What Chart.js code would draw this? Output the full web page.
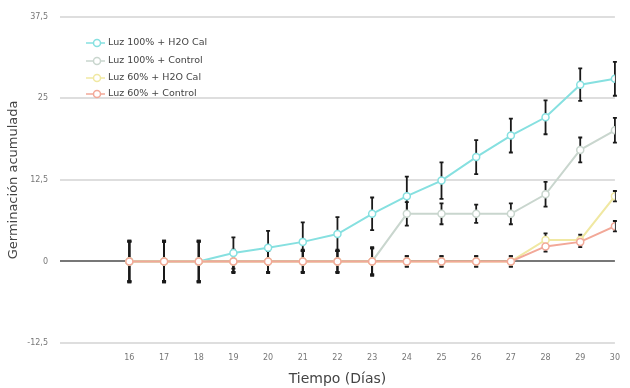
<!DOCTYPE html>
<html>
<head>
<meta charset="utf-8">
<script src="https://cdn.jsdelivr.net/npm/chart.js@4"></script>
<style>
  html, body { margin: 0; padding: 0; background: #fff; }
  #wrap { width: 630px; height: 388px; }
</style>
</head>
<body>
<div id="wrap"><canvas id="chart" width="630" height="388"></canvas></div>
<script>
// days on the x axis
const days = [16, 17, 18, 19, 20, 21, 22, 23, 24, 25, 26, 27, 28, 29, 30];
const yTicks = [-12.5, 0, 12.5, 25, 37.5];

const seriesNames = ['Luz 100% + H2O Cal', 'Luz 100% + Control', 'Luz 60% + H2O Cal', 'Luz 60% + Control'];

// means
const luz100Cal  = [0, 0, 0, 1.3, 2.1, 3.0, 4.2, 7.3, 10.0, 12.4, 16.0, 19.3, 22.1, 27.1, 28.0];
const luz100Ctrl = [0, 0, 0, 0, 0, 0, 0, 0, 7.3, 7.3, 7.3, 7.3, 10.3, 17.1, 20.1];
const luz60Cal   = [0, 0, 0, 0, 0, 0, 0, 0, 0, 0, 0, 0, 3.3, 3.3, 10.0];
const luz60Ctrl  = [0, 0, 0, 0, 0, 0, 0, 0, 0, 0, 0, 0, 2.3, 3.0, 5.4];

// error bar half-lengths
const err100Cal  = [3.2, 3.2, 3.2, 2.4, 2.6, 3.0, 2.6, 2.5, 3.0, 2.8, 2.6, 2.6, 2.6, 2.5, 2.6];
const err100Ctrl = [3.2, 3.2, 3.2, 1.8, 1.8, 1.8, 1.8, 2.2, 1.8, 1.6, 1.4, 1.6, 1.9, 1.9, 1.9];
const err60Cal   = [3.0, 3.0, 3.0, 1.6, 1.6, 1.6, 1.6, 2.0, 0.8, 0.8, 0.8, 0.8, 1.0, 0.8, 0.8];
const err60Ctrl  = [3.0, 3.0, 3.0, 1.6, 1.6, 1.6, 1.6, 2.0, 0.8, 0.8, 0.8, 0.8, 0.8, 0.8, 0.8];

const colors = ['#86e0e0', '#c9d6ce', '#f0e8a2', '#f2a898'];

function toPoints(vals) {
    return vals.map((v, i) => ({ x: days[i], y: v }));
}

// draws black error bars under the markers
const errorBars = {
    id: 'errorBars',
    beforeDatasetsDraw(chart) {
        const { ctx, scales: { x, y } } = chart;
        ctx.save();
        ctx.strokeStyle = '#1a1a1a';
        ctx.lineWidth = 1.8;
        chart.data.datasets.forEach(ds => {
            ds.data.forEach((p, i) => {
                const e = ds.errors[i];
                if (!e) return;
                const px = x.getPixelForValue(p.x);
                const top = y.getPixelForValue(p.y + e);
                const bot = y.getPixelForValue(p.y - e);
                ctx.beginPath();
                ctx.moveTo(px, top); ctx.lineTo(px, bot);
                ctx.moveTo(px - 2, top); ctx.lineTo(px + 2, top);
                ctx.moveTo(px - 2, bot); ctx.lineTo(px + 2, bot);
                ctx.stroke();
            });
        });
        ctx.restore();
    }
};

// legend drawn inside the plot, top-left
const innerLegend = {
    id: 'innerLegend',
    afterDraw(chart) {
        const ctx = chart.ctx;
        ctx.save();
        ctx.font = '9.5px "DejaVu Sans"';
        ctx.textBaseline = 'middle';
        const rows = [43, 61, 78, 94];
        chart.data.datasets.forEach((ds, i) => {
            const yy = rows[i];
            ctx.strokeStyle = ds.borderColor;
            ctx.lineWidth = 1.5;
            ctx.beginPath();
            ctx.moveTo(86, yy); ctx.lineTo(105, yy);
            ctx.stroke();
            ctx.fillStyle = '#fff';
            ctx.beginPath();
            ctx.arc(97, yy, 3.5, 0, Math.PI * 2);
            ctx.fill(); ctx.stroke();
            ctx.fillStyle = '#444';
            ctx.fillText(ds.label, 108, yy);
        });
        ctx.restore();
    }
};

const allMeans = [luz100Cal, luz100Ctrl, luz60Cal, luz60Ctrl];
const allErrs = [err100Cal, err100Ctrl, err60Cal, err60Ctrl];

const datasets = seriesNames.map((name, i) => ({
    label: name,
    data: toPoints(allMeans[i]),
    errors: allErrs[i],
    borderColor: colors[i],
    backgroundColor: '#fff',
    borderWidth: 2,
    pointRadius: 3.5,
    pointBorderWidth: 1.5,
    pointBackgroundColor: '#fff',
    pointBorderColor: colors[i],
    tension: 0,
    order: 4 - i
}));

new Chart(document.getElementById('chart'), {
    type: 'line',
    data: { datasets },
    options: {
        responsive: false,
        animation: false,
        layout: { padding: { top: 14, right: 12, left: 0, bottom: 0 } },
        plugins: {
            legend: { display: false },
            tooltip: { enabled: false }
        },
        scales: {
            x: {
                type: 'linear',
                min: 14,
                max: 30,
                afterBuildTicks(scale) {
                    scale.ticks = days.map(d => ({ value: d }));
                },
                afterFit(scale) { scale.height = 45; },
                grid: { display: false, drawTicks: false },
                border: { display: false },
                ticks: {
                    color: '#777',
                    font: { size: 8, family: 'DejaVu Sans' },
                    padding: 10,
                    maxRotation: 0,
                    callback: v => String(v)
                },
                title: {
                    display: true,
                    text: 'Tiempo (Días)',
                    color: '#444',
                    font: { size: 14, family: 'DejaVu Sans' },
                    padding: { top: 0, bottom: 0 }
                }
            },
            y: {
                min: -12.5,
                max: 37.5,
                afterBuildTicks(scale) {
                    scale.ticks = yTicks.map(v => ({ value: v }));
                },
                afterFit(scale) { scale.width = 60; },
                grid: {
                    drawTicks: false,
                    color: c => c.tick && c.tick.value === 0 ? '#777' : '#dedede',
                    lineWidth: 2
                },
                border: { display: false },
                ticks: {
                    color: '#777',
                    font: { size: 8, family: 'DejaVu Sans' },
                    padding: 12,
                    callback: v => String(v).replace('.', ',')
                },
                title: {
                    display: true,
                    text: 'Germinación acumulada',
                    color: '#444',
                    font: { size: 13, family: 'DejaVu Sans' },
                    padding: { top: 6, bottom: 0 }
                }
            }
        }
    },
    plugins: [errorBars, innerLegend]
});
</script>
</body>
</html>
